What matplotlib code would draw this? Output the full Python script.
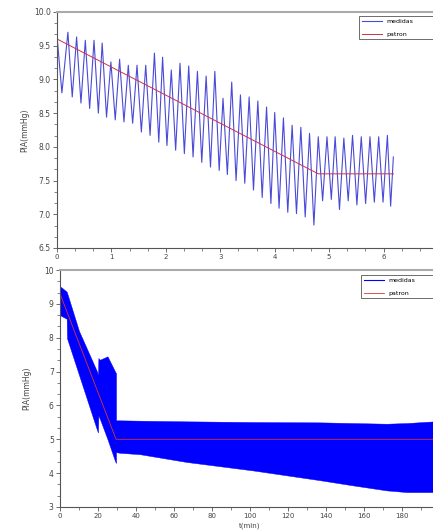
import numpy as np
import matplotlib
matplotlib.use("Agg")
from matplotlib import pyplot as plt
from matplotlib.ticker import MultipleLocator, FixedLocator, FormatStrFormatter

med_t = [0.00, 0.09, 0.20, 0.28, 0.36, 0.44, 0.52, 0.60, 0.68, 0.76, 0.83, 0.91,
         0.99, 1.07, 1.15, 1.23, 1.31, 1.39, 1.47, 1.55, 1.63, 1.71, 1.79, 1.87,
         1.94, 2.02, 2.10, 2.18, 2.26, 2.34, 2.42, 2.50, 2.58, 2.66, 2.74, 2.82,
         2.90, 2.98, 3.05, 3.13, 3.21, 3.29, 3.37, 3.45, 3.53, 3.61, 3.69, 3.77,
         3.85, 3.93, 4.00, 4.08, 4.16, 4.24, 4.32, 4.40, 4.48, 4.56, 4.64, 4.72,
         4.80, 4.88, 4.96, 5.04, 5.11, 5.19, 5.27, 5.35, 5.43, 5.51, 5.59, 5.67,
         5.75, 5.83, 5.91, 5.99, 6.07, 6.13, 6.18]
med_v = [9.65, 8.80, 9.70, 8.74, 9.63, 8.65, 9.58, 8.57, 9.58, 8.50, 9.54, 8.44,
         9.26, 8.40, 9.30, 8.37, 9.21, 8.35, 9.21, 8.22, 9.21, 8.17, 9.39, 8.07,
         9.33, 8.02, 9.14, 7.95, 9.24, 7.90, 9.20, 7.85, 9.12, 7.77, 9.05, 7.70,
         9.12, 7.65, 8.72, 7.59, 8.96, 7.50, 8.77, 7.46, 8.74, 7.36, 8.68, 7.25,
         8.59, 7.16, 8.51, 7.09, 8.43, 7.03, 8.32, 7.01, 8.29, 6.96, 8.20, 6.84,
         8.15, 7.20, 8.15, 7.22, 8.15, 7.07, 8.13, 7.20, 8.17, 7.14, 8.15, 7.16,
         8.15, 7.18, 8.15, 7.18, 8.17, 7.12, 7.85]
pat1_t = [0.0, 4.80, 6.18]
pat1_v = [9.60, 7.60, 7.60]
top_xticks = [0, 1, 2, 3, 4, 5, 6]

# bottom chart: envelope of the (very dense) measured signal
env_t = [0, 0.5, 3.5, 3.7, 10, 19.5, 20.0, 20.2, 21.0, 25.0, 29.0, 29.5, 29.5,
         31.6, 42, 66.6, 101.6, 137, 154, 172, 182.6, 200]
env_hi = [9.47, 9.50, 9.36, 9.33, 8.20, 7.00, 6.90, 7.40, 7.35, 7.45, 7.00, 6.95,
          5.56, 5.56, 5.55, 5.53, 5.51, 5.50, 5.48, 5.46, 5.48, 5.54]
env_lo = [8.67, 8.65, 8.56, 7.98, 6.90, 5.27, 5.20, 5.70, 5.60, 5.00, 4.35, 4.30,
          4.62, 4.60, 4.56, 4.33, 4.08, 3.79, 3.64, 3.49, 3.44, 3.44]
pat2_t = [0, 29.5, 200]
pat2_v = [9.3, 5.0, 5.0]
bot_xticks = [0, 20, 40, 60, 80, 100, 120, 140, 160, 180]

W, H = 433, 531
fig = plt.figure(figsize=(W / 100, H / 100), dpi=100)

def style(ax):
    for s in ["left", "bottom"]:
        ax.spines[s].set_color("#555555")
        ax.spines[s].set_linewidth(0.8)
    ax.spines["top"].set_color("#aaaaaa")
    ax.spines["top"].set_linewidth(1.5)
    ax.spines["right"].set_color("#aaaaaa")
    ax.tick_params(which="major", direction="out", length=3, width=0.6,
                   labelsize=5.5, color="#555555", labelcolor="#444444", pad=1.5)
    ax.tick_params(which="minor", direction="out", length=2, width=0.5,
                   color="#555555")
    ax.tick_params(axis="x", which="major", labelsize=5, pad=1)

# top
ax1 = fig.add_axes([57 / W, 1 - 248 / H, 381 / W, 236 / H])
ax1.plot(med_t, med_v, color="#4a4ad8", lw=0.8, label="medidas")
ax1.plot(pat1_t, pat1_v, color="#cc3344", lw=0.7, label="patron")
ax1.set_xlim(0, 7)
ax1.set_ylim(6.5, 10.0)
ax1.xaxis.set_major_locator(FixedLocator(top_xticks))
ax1.xaxis.set_minor_locator(MultipleLocator(1 / 3))
ax1.yaxis.set_major_locator(MultipleLocator(0.5))
ax1.yaxis.set_minor_locator(MultipleLocator(0.5 / 3))
ax1.yaxis.set_major_formatter(FormatStrFormatter("%.1f"))
ax1.set_ylabel("PIA(mmHg)", fontsize=5.5, color="#444444", labelpad=3)
style(ax1)
ax1.legend(loc="upper left", bbox_to_anchor=(359 / W, 1 - 48 / H, 90 / W, 32 / H),
           bbox_transform=fig.transFigure, mode="expand", fontsize=4.5,
           handlelength=3.2, labelspacing=1.2, borderaxespad=0, fancybox=False,
           edgecolor="#555555", framealpha=1).get_frame().set_linewidth(0.6)

# bottom
ax2 = fig.add_axes([60 / W, 1 - 507 / H, 380 / W, 237 / H])
ax2.fill_between(env_t, env_lo, env_hi, color="#0000ff", lw=0.3, edgecolor="#0000ff",
                 label="medidas")
ax2.plot(pat2_t, pat2_v, color="#dd3333", lw=0.6, label="patron")
ax2.set_xlim(0, 200)
ax2.set_ylim(3, 10)
ax2.xaxis.set_major_locator(FixedLocator(bot_xticks))
ax2.xaxis.set_minor_locator(MultipleLocator(10))
ax2.yaxis.set_major_locator(MultipleLocator(1))
ax2.yaxis.set_minor_locator(MultipleLocator(1 / 3))
ax2.set_ylabel("PIA(mmHg)", fontsize=5.5, color="#444444", labelpad=9)
ax2.set_xlabel("t(min)", fontsize=5, color="#444444")
ax2.xaxis.set_label_coords(0.5, -0.064)
style(ax2)
h, l = ax2.get_legend_handles_labels()
h[0] = matplotlib.lines.Line2D([], [], color="#0000ff", lw=0.8)
ax2.legend(h, l, loc="upper left", bbox_to_anchor=(361 / W, 1 - 307 / H, 90 / W, 32 / H),
           bbox_transform=fig.transFigure, mode="expand", fontsize=4.5,
           handlelength=3.2, labelspacing=1.2, borderaxespad=0, fancybox=False,
           edgecolor="#555555", framealpha=1).get_frame().set_linewidth(0.6)

fig.savefig("out.png", dpi=100)
